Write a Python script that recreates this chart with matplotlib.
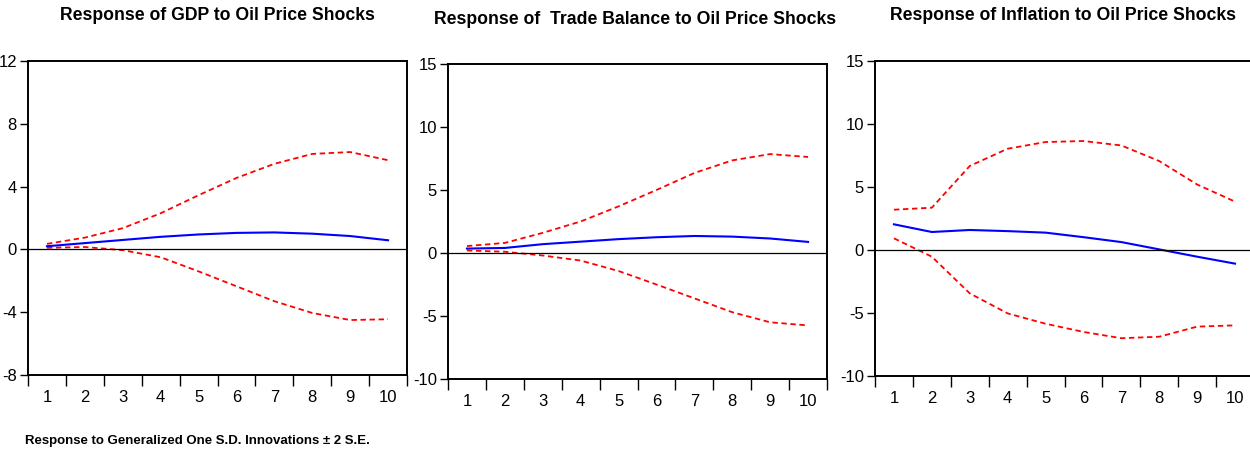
import numpy as np
import matplotlib
matplotlib.use('Agg')
import matplotlib.pyplot as plt

plt.rcParams['font.family'] = ['Liberation Sans', 'DejaVu Sans']
plt.rcParams['axes.unicode_minus'] = False

periods = [1, 2, 3, 4, 5, 6, 7, 8, 9, 10]

# GDP response and +/- 2 S.E. bands
gdp_resp = [0.2, 0.4, 0.6, 0.8, 0.95, 1.05, 1.08, 1.0, 0.85, 0.58]
gdp_up = [0.35, 0.75, 1.35, 2.3, 3.45, 4.55, 5.45, 6.08, 6.2, 5.68]
gdp_lo = [0.1, 0.15, -0.05, -0.5, -1.4, -2.35, -3.3, -4.05, -4.5, -4.45]

# trade balance
tb_resp = [0.35, 0.4, 0.7, 0.9, 1.1, 1.25, 1.35, 1.3, 1.15, 0.88]
tb_up = [0.55, 0.8, 1.6, 2.5, 3.7, 5.0, 6.35, 7.35, 7.85, 7.62]
tb_lo = [0.2, 0.1, -0.2, -0.6, -1.43, -2.5, -3.6, -4.7, -5.5, -5.75]

# inflation
inf_resp = [2.04, 1.43, 1.59, 1.5, 1.38, 1.02, 0.63, 0.05, -0.53, -1.08]
inf_up = [3.2, 3.36, 6.67, 8.04, 8.57, 8.65, 8.3, 7.06, 5.2, 3.84]
inf_lo = [0.93, -0.53, -3.44, -5.03, -5.85, -6.5, -7.0, -6.88, -6.08, -5.98]

titles = ['Response of GDP to Oil Price Shocks',
          'Response of  Trade Balance to Oil Price Shocks',
          'Response of Inflation to Oil Price Shocks']
ylims = [(-8, 12), (-10, 15), (-10, 15)]
yticks = [[-8, -4, 0, 4, 8, 12], [-10, -5, 0, 5, 10, 15], [-10, -5, 0, 5, 10, 15]]
boxes = [[0.0224, 0.1667, 0.3032, 0.6978],
         [0.3584, 0.1578, 0.3032, 0.7],
         [0.7, 0.1644, 0.3032, 0.7]]
title_pos = [(0.174, 0.965), (0.508, 0.957), (0.85, 0.965)]

fig = plt.figure(figsize=(12.5, 4.5), dpi=100)

series = [(gdp_resp, gdp_up, gdp_lo), (tb_resp, tb_up, tb_lo), (inf_resp, inf_up, inf_lo)]
for i in range(3):
    ax = fig.add_axes(boxes[i])
    resp, up, lo = series[i]
    ax.plot(periods, up, c='red', ls='--', lw=1.3, dashes=(3, 2))
    ax.plot(periods, lo, c='red', ls='--', lw=1.3, dashes=(3, 2))
    ax.plot(periods, resp, c='blue', lw=1.5)
    ax.axhline(0, c='black', lw=0.9)
    ax.set_xlim(0.5, 10.5)
    ax.set_ylim(*ylims[i])
    ax.set_yticks(yticks[i])
    ax.set_xticks(np.arange(0.5, 11, 1))
    ax.set_xticklabels([])
    ax.set_xticks(periods, minor=True)
    ax.set_xticklabels([str(p) for p in periods], minor=True)
    ax.tick_params(axis='x', which='major', length=8, width=1, direction='out')
    ax.tick_params(axis='x', which='minor', length=0, pad=11, labelsize=12)
    ax.tick_params(axis='y', length=6, width=1, direction='out', labelsize=12, pad=2)
    for s in ax.spines.values():
        s.set_linewidth(1.4)
    fig.text(title_pos[i][0], title_pos[i][1], titles[i], ha='center', va='center',
             fontsize=12.7, fontweight='bold')

fig.text(0.02, 0.02, 'Response to Generalized One S.D. Innovations \u00b1 2 S.E.',
         fontsize=9.5, fontweight='bold', ha='left', va='center')

fig.savefig('out.png', dpi=100)
